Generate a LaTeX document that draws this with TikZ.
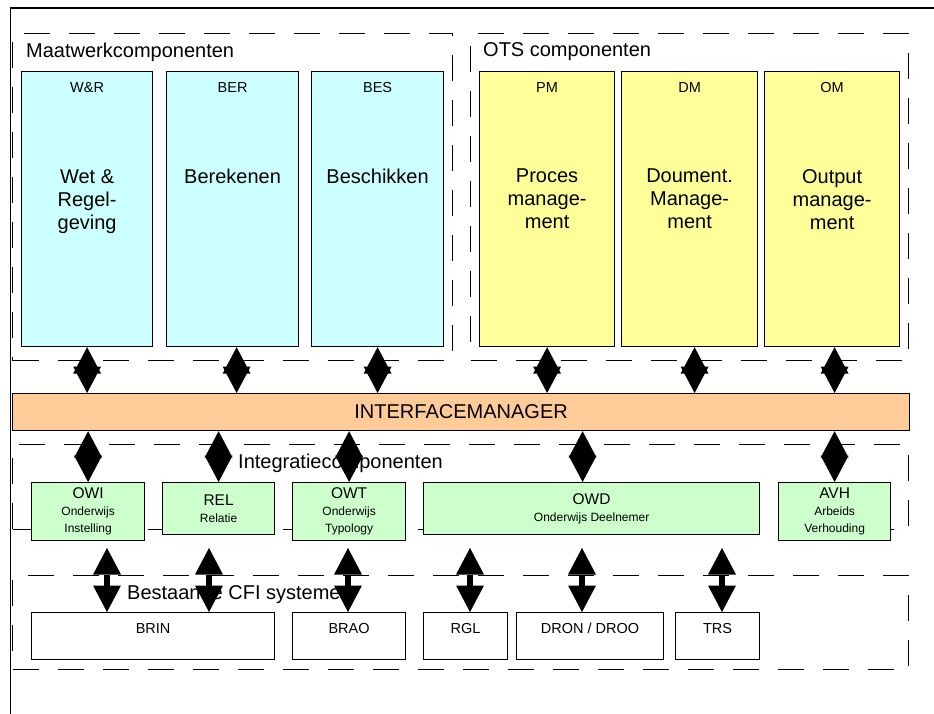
\documentclass[tikz,border=0pt]{standalone}
\usepackage{fontspec}
\setmainfont{Liberation Sans}
\usetikzlibrary{arrows.meta}
\definecolor{maatblue}{HTML}{CCFFFF}
\definecolor{otsyellow}{HTML}{FFFF99}
\definecolor{imorange}{HTML}{FFCC99}
\definecolor{intgreen}{HTML}{CCFFCC}
\newcommand\smalltxt[1]{{\fontsize{12}{14}\selectfont #1}}

\begin{document}
\begin{tikzpicture}[x=1pt,y=-1pt,
    box/.style={draw,line width=1.2pt,anchor=north west,inner sep=0pt},
    group/.style={draw,line width=1.2pt,dash pattern=on 26pt off 19pt,anchor=north west,inner sep=0pt},
    grouptitle/.style={anchor=west,inner sep=0pt,font=\fontsize{20}{23}\selectfont},
    abbr/.style={anchor=base,inner sep=0pt,font=\fontsize{14.5}{16}\selectfont},
    bigtext/.style={anchor=north,inner sep=0pt,align=center,font=\fontsize{20}{23}\selectfont},
    ic/.style={box,fill=intgreen,align=center,font=\fontsize{15.5}{17}\selectfont},
    cfi/.style={box,fill=white},
    link/.style={{Triangle[length=26.5pt,width=28pt,line width=0pt]}-{Triangle[length=26.5pt,width=28pt,line width=0pt]},line width=6pt}]
  \useasboundingbox (0,0) rectangle (934,713);
  \draw[line width=1.2pt] (945,8) -| (10.5,725);

  % groups
  \draw (12,33) node[group,minimum width=440pt,minimum height=327pt] (maat) {};
  \draw (470,33) node[group,minimum width=438pt,minimum height=327pt] (ots) {};
  \draw (12,444) node[group,minimum width=896pt,minimum height=85pt] (integ) {};
  \draw (12,575) node[group,minimum width=896pt,minimum height=94pt] (best) {};
  \node[grouptitle] (maattitle) at ([xshift=14pt,yshift=-19pt]maat.north west) {Maatwerkcomponenten};
  \node[grouptitle] (otstitle) at ([xshift=13pt,yshift=-19pt]ots.north west) {OTS componenten};
  \node[grouptitle] (integtitle) at ([xshift=226pt,yshift=-19pt]integ.north west) {Integratiecomponenten};
  \node[grouptitle] (besttitle) at ([xshift=115pt,yshift=-19pt]best.north west) {Bestaande CFI systemen};

  % maatwerk + OTS
  \draw (21,71) node[box,fill=maatblue,minimum width=131pt,minimum height=275pt] (wr) {};
  \draw (166,71) node[box,fill=maatblue,minimum width=132pt,minimum height=275pt] (ber) {};
  \draw (311,71) node[box,fill=maatblue,minimum width=132pt,minimum height=275pt] (bes) {};
  \draw (479,71) node[box,fill=otsyellow,minimum width=135pt,minimum height=275pt] (pm) {};
  \draw (621,71) node[box,fill=otsyellow,minimum width=136pt,minimum height=275pt] (dm) {};
  \draw (764,71) node[box,fill=otsyellow,minimum width=135pt,minimum height=275pt] (om) {};
  \node[abbr] (wrabbr) at ([yshift=-21pt]wr.north) {W\&R};
  \node[abbr] (berabbr) at ([yshift=-21pt]ber.north) {BER};
  \node[abbr] (besabbr) at ([yshift=-21pt]bes.north) {BES};
  \node[abbr] (pmabbr) at ([yshift=-21pt]pm.north) {PM};
  \node[abbr] (dmabbr) at ([yshift=-21pt]dm.north) {DM};
  \node[abbr] (omabbr) at ([yshift=-21pt]om.north) {OM};
  \node[bigtext] (wrtext) at ([yshift=-98pt]wr.north) {Wet \&\\Regel-\\geving};
  \node[bigtext] (bertext) at ([yshift=-98pt]ber.north) {Berekenen};
  \node[bigtext] (bestext) at ([yshift=-98pt]bes.north) {Beschikken};
  \node[bigtext] (pmtext) at ([yshift=-98pt]pm.north) {Proces\\manage-\\ment};
  \node[bigtext] (dmtext) at ([yshift=-98pt]dm.north) {Doument.\\Manage-\\ment};
  \node[bigtext] (omtext) at ([yshift=-98pt]om.north) {Output\\manage-\\ment};

  % interfacemanager
  \draw (12,393) node[box,fill=imorange,minimum width=897pt,minimum height=37pt,font=\fontsize{20}{23}\selectfont] (im) {INTERFACEMANAGER};

  % integratiecomponenten
  \draw (31,482) node[ic,minimum width=113pt,minimum height=58pt] (owi) {OWI\\\smalltxt{Onderwijs}\\\smalltxt{Instelling}};
  \draw (162,482) node[ic,minimum width=112pt,minimum height=52pt] (rel) {REL\\\smalltxt{Relatie}};
  \draw (292,482) node[ic,minimum width=113pt,minimum height=58pt] (owt) {OWT\\\smalltxt{Onderwijs}\\\smalltxt{Typology}};
  \draw (423,482) node[ic,minimum width=336pt,minimum height=52pt] (owd) {OWD\\\smalltxt{Onderwijs Deelnemer}};
  \draw (778,482) node[ic,minimum width=112pt,minimum height=58pt] (avh) {AVH\\\smalltxt{Arbeids}\\\smalltxt{Verhouding}};

  % bestaande systemen
  \draw (31,612) node[cfi,minimum width=243pt,minimum height=47pt] (brin) {};
  \draw (292,612) node[cfi,minimum width=113pt,minimum height=47pt] (brao) {};
  \draw (423,612) node[cfi,minimum width=84pt,minimum height=47pt] (rgl) {};
  \draw (516,612) node[cfi,minimum width=147pt,minimum height=47pt] (dron) {};
  \draw (675,612) node[cfi,minimum width=84pt,minimum height=47pt] (trs) {};
  \node[abbr] (brinlabel) at ([yshift=-21pt]brin.north) {BRIN};
  \node[abbr] (braolabel) at ([yshift=-21pt]brao.north) {BRAO};
  \node[abbr] (rgllabel) at ([yshift=-21pt]rgl.north) {RGL};
  \node[abbr] (dronlabel) at ([yshift=-21pt]dron.north) {DRON / DROO};
  \node[abbr] (trslabel) at ([yshift=-21pt]trs.north) {TRS};

  % koppelingen
  \coordinate (berlink) at ([xshift=4pt]ber.south);
  \coordinate (dmlink) at ([xshift=5pt]dm.south);
  \coordinate (omlink) at ([xshift=2.5pt]om.south);
  \coordinate (owdlink) at ([xshift=-9pt]owd.north);
  \draw[link] (wr.south) -- (wr.south |- im.north);
  \draw[link] (berlink) -- (berlink |- im.north);
  \draw[link] (bes.south) -- (bes.south |- im.north);
  \draw[link] (pm.south) -- (pm.south |- im.north);
  \draw[link] (dmlink) -- (dmlink |- im.north);
  \draw[link] (omlink) -- (omlink |- im.north);
  \draw[link] (im.south -| owi.north) -- (owi.north);
  \draw[link] (im.south -| rel.north) -- (rel.north);
  \draw[link] (im.south -| owt.north) -- (owt.north);
  \draw[link] (im.south -| owdlink) -- (owdlink);
  \draw[link] (im.south -| avh.north) -- (avh.north);
  \coordinate (l1) at (107,548);
  \coordinate (l2) at (209,548);
  \coordinate (l3) at (348,548);
  \coordinate (l4) at (470,548);
  \coordinate (l5) at (582,548);
  \coordinate (l6) at (722,548);
  \draw[link] (l1) -- (l1 |- brin.north);
  \draw[link] (l2) -- (l2 |- brin.north);
  \draw[link] (l3) -- (l3 |- brao.north);
  \draw[link] (l4) -- (l4 |- rgl.north);
  \draw[link] (l5) -- (l5 |- dron.north);
  \draw[link] (l6) -- (l6 |- trs.north);
\end{tikzpicture}
\end{document}
